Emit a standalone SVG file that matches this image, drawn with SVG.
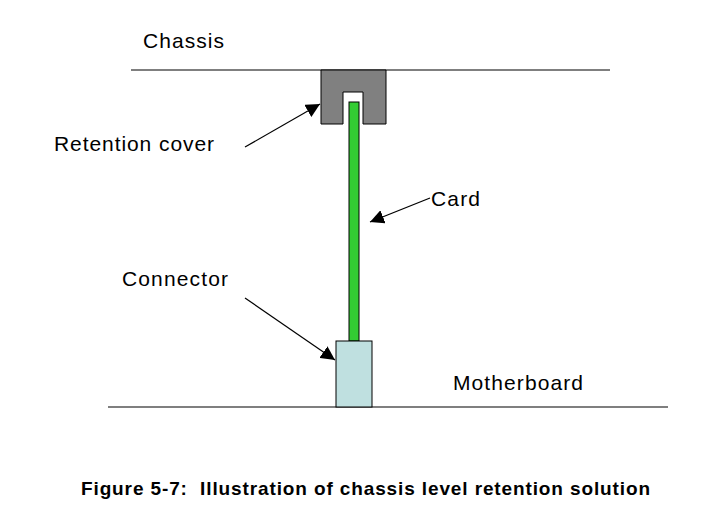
<svg xmlns="http://www.w3.org/2000/svg" width="702" height="511" viewBox="0 0 702 511">
<style>
text{font-family:"Liberation Sans",Arial,sans-serif;font-size:21px;fill:#000}
.ln{stroke:#000;stroke-width:1.2;fill:none}
</style>
<defs><marker id="ah" viewBox="0 0 10 10" refX="10" refY="5" markerWidth="14" markerHeight="14" markerUnits="userSpaceOnUse" orient="auto"><path d="M0,0L10,5L0,10Z" fill="#000"/></marker></defs>
<rect width="702" height="511" fill="#fff"/>
<g id="chassis"><line class="ln" x1="131" y1="70" x2="610" y2="70"/><text x="143" y="48" textLength="81">Chassis</text></g>
<g id="motherboard"><line class="ln" x1="108" y1="407" x2="668" y2="407"/><text x="453" y="390" textLength="130">Motherboard</text></g>
<g id="retention-cover"><path d="M321,70H386V124H363V92H343V124H321Z" fill="#808080" stroke="#000" stroke-width="1"/><text x="54" y="151" textLength="160">Retention cover</text></g>
<g id="card"><rect x="349" y="102" width="10" height="239" fill="#33cc33" stroke="#000" stroke-width="1"/><text x="431" y="206" textLength="49">Card</text></g>
<g id="connector"><rect x="336" y="341" width="36" height="66" fill="#bfe0e0" stroke="#000" stroke-width="1"/><text x="122" y="286" textLength="106">Connector</text></g>
<g id="connectors">
<line class="ln" x1="245" y1="147" x2="320" y2="104" marker-end="url(#ah)"/>
<line class="ln" x1="430" y1="198" x2="370" y2="222" marker-end="url(#ah)"/>
<line class="ln" x1="245" y1="298" x2="335" y2="360" marker-end="url(#ah)"/>
</g>
<text x="81" y="495" xml:space="preserve" textLength="569" style="font-weight:bold;font-size:19px">Figure 5-7:  Illustration of chassis level retention solution</text>
</svg>
